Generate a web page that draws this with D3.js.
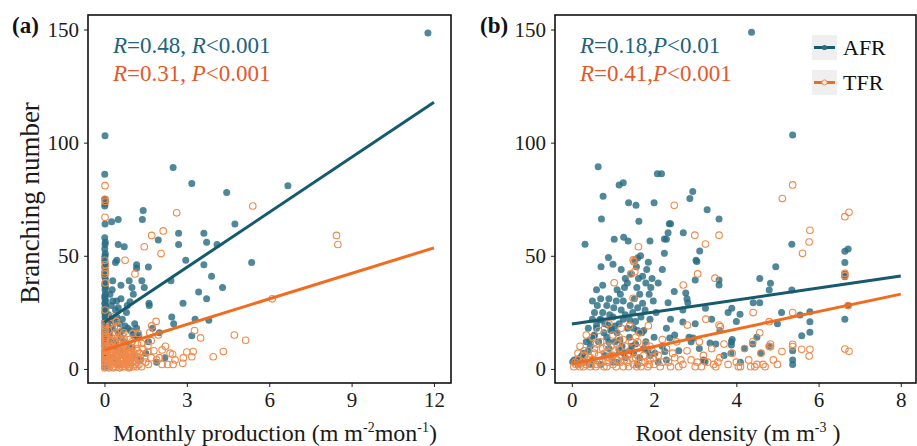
<!DOCTYPE html>
<html>
<head>
<meta charset="utf-8">
<script src="https://cdn.jsdelivr.net/npm/d3@7/dist/d3.min.js"></script>
<style>
  html, body { margin: 0; padding: 0; background: #fff; }
  svg { display: block; }
  text { font-family: "Liberation Serif", "Times New Roman", serif; }
</style>
</head>
<body>
<svg id="chart" width="917" height="446"></svg>
<script>
// ---- Data: branching number vs monthly production (panel a) ----
const prodAFR = [
  [0.02,103],[0.01,86],[0.03,75],[0.02,73],[0.01,72],[0.02,64],[0.01,58],[0.03,56],[0.02,55],[0.01,53],
  [0.03,51],[0.02,50],[0.01,49],[0.02,47],[0.04,46],[0.01,45],[0.03,44],[0.02,42],[0.01,41],[0.03,40],
  [0.02,38],[0.01,37],[0.04,36],[0.02,35],[0.03,33],[0.01,32],[0.02,31],[0.04,30],[0.01,29],[0.03,28],
  [0.02,27],[0.05,26],[0.01,25],[0.03,24],[0.02,23],[0.04,22],[0.01,21],[0.03,20],[0.02,19],[0.05,18],
  [0.01,17],[0.03,16],[0.02,15],[0.04,14],[0.01,13],[0.03,12],[0.02,11],[0.01,10],[0.04,9],[0.02,8],
  [0.03,7],[0.01,6],[0.02,5],[0.04,4],[0.01,3],[0.03,2],[0.02,1],
  [11.78,148.5],[2.5,89],[3.18,82],[4.45,78],[6.68,81],[1.41,70],[1.38,66],[0.5,66],[0.26,65],[4.75,64],
  [2.7,60],[3.62,60],[3.72,56],[2.7,55],[1.96,57],[4.1,55],[0.5,55],[0.72,54],[5.36,47],[2.96,48],
  [3.62,46],[1.6,45],[1.17,46],[1.17,44.5],[0.4,47],[0.45,48],[3.9,41],[4.3,36],[3.43,34],[3.72,31],
  [2.86,29],[2.42,39],[1.36,39],[1.45,36],[0.9,39],[1.0,36],[1.05,33],[0.6,37],[0.3,39],[0.28,35],
  [1.62,29],[0.83,28],[0.44,30],[2.45,23],[2.52,20],[3.3,22],[3.8,21.5],[3.18,14.7],[2.0,16],[1.75,18],
  [0.93,29.7],[1.63,28],[1.17,18],[1.25,15],[0.93,5.4],
  [0.15,24],[0.25,22],[0.35,21],[0.45,23],[0.55,20],[0.65,22],[0.75,19],[0.85,18],[0.95,17],[1.05,15],
  [0.3,18],[0.5,16],[0.6,14],[0.2,15],[0.4,12],[0.7,12],[0.9,10],[1.2,14],[1.1,20],[0.8,25],
  [0.5,27],[0.3,30],[0.2,33],[0.6,31],[1.0,9],[0.45,8],[0.6,6],[0.3,5],[0.8,5],[1.3,4],
  [1.5,7],[1.6,12],[0.15,10],[1.9,3],[2.2,5],[0.12,20],[0.18,17],[0.22,12],[0.1,7],[0.35,3],
  [0.55,2],[0.7,8],[1.1,6],[0.4,26],[0.25,28],[0.65,17]
];
const prodTFR = [
  [0.02,81],[0.01,75],[0.03,74],[0.02,67],[0.01,48],[0.03,46],[0.02,43],[0.01,42],[0.03,38],[0.02,26],
  [0.01,20],[0.03,19],[0.02,18],[0.04,17],[0.01,16],[0.03,15],[0.02,14],[0.04,13],[0.01,12],[0.03,11],
  [0.02,10],[0.05,9],[0.01,8],[0.03,7],[0.02,6],[0.04,5],[0.01,4],[0.03,3],[0.02,2],[0.04,1],[0.01,0.5],
  [0.1,1],[0.15,3],[0.2,5],[0.25,2],[0.3,7],[0.35,4],[0.4,1],[0.45,9],[0.5,3],[0.55,6],
  [0.6,2],[0.65,8],[0.7,4],[0.75,1],[0.8,6],[0.85,3],[0.9,10],[0.95,2],[1.0,5],[1.05,1],
  [1.1,7],[1.15,3],[1.2,11],[0.12,8],[0.18,11],[0.22,13],[0.28,10],[0.32,15],[0.38,12],[0.42,6],
  [0.48,14],[0.52,11],[0.58,4],[0.62,12],[0.68,10],[0.72,13],[0.78,9],[0.82,2],[0.88,7],[0.92,5],
  [0.08,6],[0.06,14],[0.14,17],[0.2,20],[0.36,18],[0.5,19],[0.26,23],[0.44,21],[1.25,2],[1.3,5],
  [1.35,1],[1.4,9],[0.7,16],[0.15,0.5],[0.33,0.5],[0.55,0.5],[0.9,0.5],[0.05,3],[0.09,10],
  [0.1,4],[0.2,7],[0.3,1],[0.4,3],[0.5,6],[0.6,8],[0.7,2],[0.8,4],[0.9,3],[1.0,7],
  [1.1,2],[1.2,5],[0.15,9],[0.25,6],[0.35,9],[0.45,2],[0.55,4],[0.65,1],[0.75,6],[0.85,8],
  [0.95,4],[1.05,6],[1.15,9],[0.12,2],[0.22,4],[0.32,3],[0.42,4],[0.52,1],[0.62,5],[0.72,7],
  [0.82,5],[0.92,1],[1.02,3],[0.18,5],[0.28,8],[0.38,6],[0.48,7],[0.58,9],[0.68,5],[0.78,3],
  [0.88,1],[0.98,8],[1.08,4],[1.18,1],[1.28,7],[1.45,5],[1.6,2],[1.7,5],[1.8,8],[0.24,12],
  [0.4,16],[0.56,13],[0.64,15],[0.8,11],[1.0,12],
  [5.4,72],[2.63,69],[1.72,59],[2.14,61],[1.45,54],[2.06,51],[0.75,48],[1.11,42],[8.45,59],[8.5,55],
  [6.11,31],[4.73,15],[5.14,12.7],[3.28,17],[3.5,13.7],[1.88,21],[1.72,19],[1.96,15],[1.7,12.5],[2.22,10],
  [2.1,8.4],[3.23,7.7],[4.33,7.7],[3.96,5.4],[3.18,5.4],[2.48,6.5],[2.85,2.5],[2.5,2],[2.3,2],[2.1,2],
  [1.9,4],[2.0,5],[1.58,7.7],[1.58,10],[1.3,4],[1.5,3],[1.2,8],[1.03,15.7],[1.23,15.7],[1.35,11.3],
  [2.39,7],[2.57,4],[2.87,4.9],[3.0,7.5],[1.65,16],[0.9,13]
];

// ---- Data: branching number vs root density (panel b) ----
const densAFR = [
  [4.37,148.8],[5.37,103.4],[0.64,89.4],[0.76,76.3],[0.72,66.3],[1.15,81.3],[1.25,82.3],[2.08,86.3],[2.18,86.3],[1.38,73.4],
  [1.56,72.3],[2.0,73.4],[2.87,75.3],[2.94,78.4],[3.29,70.3],[3.58,66.3],[1.63,65.3],[2.37,64.2],[2.4,64.2],[2.34,60.2],
  [2.71,60.2],[0.32,55.1],[1.03,57.3],[1.26,58.2],[1.37,56.5],[1.9,56.5],[2.3,57.3],[3.11,52.1],[0.71,45.2],[0.89,49.2],
  [1.0,46.3],[1.53,48],[1.6,49],[1.67,50],[1.57,45.2],[1.86,47.1],[2.25,51.1],[2.25,57.4],[3.02,48],[3.04,47.5],
  [5.35,55.1],[6.64,52],[6.72,53],[6.64,47],[6.64,42],[6.64,40.8],[6.64,22],[6.72,28],[4.96,45.2],[4.57,40],
  [4.83,37.9],[3.58,39.3],[3.58,37.1],[3.0,39.3],[2.77,33.6],[2.8,31],[2.82,29.3],[2.49,34.2],[2.34,29.3],[3.25,26.8],
  [3.89,26.8],[4.09,24.2],[4.41,29.3],[4.57,29.3],[3.8,24.9],[4.8,34.9],[5.35,34.9],[5.55,23.9],[5.79,25.3],[5.79,20.9],
  [5.79,16.2],[5.59,14.7],[1.72,41],[1.8,38],[1.45,42],[1.2,44],[1.3,40],[1.1,35],[0.75,37],[0.6,35],
  [0.5,30],[0.9,31],[0.85,28],[1.25,30],[1.65,33],[1.95,40],[2.05,25],[0.02,3.2],[0.06,4],[0.28,7],
  [0.44,12.8],[0.54,14.7],[0.6,19.4],[0.68,21.6],[0.88,19.4],[0.97,17.7],[1.17,12.8],[1.22,10],[1.27,7],[1.41,21.6],
  [1.5,18],[1.6,17],[1.7,16],[2.02,7],[2.26,7.7],[2.38,13.7],[2.7,20.7],[2.85,14],[2.95,13.7],[3.36,11.5],
  [3.24,3.2],[3.88,12],[3.88,10.6],[3.87,7],[0.1,4],[0.2,5],[0.3,3],[0.25,6],[0.4,8],[0.5,4],
  [0.45,10],[0.55,15],[0.6,18],[0.65,12],[0.7,22],[0.75,25],[0.8,20],[0.85,14],[0.9,9],[0.95,6],
  [1.0,3],[1.05,12],[1.1,16],[1.15,20],[1.2,26],[1.3,24],[1.35,18],[1.4,14],[1.45,10],[1.5,7],
  [1.55,21],[1.6,27],[1.75,17],[1.8,12],[1.85,8],[1.9,22],[2.0,14],[1.0,23],[0.95,17],[1.15,8],
  [1.3,5],[0.7,2],[1.6,2],[2.1,3],[2.2,10],[2.3,18],[2.4,22],[2.5,15],[2.6,8],[2.7,26],
  [2.9,12],[3.0,20],[3.1,9],[3.2,4],[3.4,22],[3.5,11],[3.6,17],[3.7,6],[3.9,13],[4.0,21],
  [4.2,9],[4.4,11],[4.5,14],[4.6,7],[4.8,10],[5.0,20],[5.37,2],[5.37,4],[5.37,8],[5.1,25],[4.1,3],
  [0.55,25],[0.62,28],[0.7,31],[0.78,16],[0.92,24],[1.02,27],[1.08,30],[1.18,33],[1.28,36],[1.35,38],
  [1.42,28],[1.48,25],[1.52,31],[1.58,36],[1.62,40],[1.68,23],[1.72,29],[1.78,26],[1.82,44],[1.88,33],
  [1.92,36],[1.98,30],[2.1,38],[2.2,44],[0.4,18],[0.5,22],[0.35,12],[0.9,12],[1.05,19],[1.25,22],
  [1.4,8],[1.55,11],[1.65,5],[1.75,9],[0.15,2],[0.45,2],[0.8,6],[1.1,3],[1.9,6],[2.3,4]
];
const densTFR = [
  [5.37,81.3],[5.12,75.3],[6.64,67.3],[6.74,69.2],[5.79,61.3],[5.77,56.1],[5.61,51.1],[6.64,42.3],[6.64,41.2],[2.49,72.3],
  [2.99,59.1],[3.58,59.1],[3.25,55.2],[1.62,54],[1.49,48.2],[1.51,47.4],[1.53,43],[1.43,42],[1.49,31.2],[1.03,38.1],
  [3.06,42],[3.48,40.1],[2.71,37.1],[6.72,28],
  [0.05,1],[0.1,2],[0.15,4],[0.2,1],[0.25,3],[0.3,6],[0.35,2],[0.4,8],[0.45,1],[0.5,4],
  [0.55,9],[0.6,2],[0.65,6],[0.7,12],[0.75,3],[0.8,7],[0.85,1],[0.9,5],[0.95,10],[1.0,2],
  [1.05,8],[1.1,4],[1.15,14],[1.2,6],[1.25,1],[1.3,10],[1.35,3],[1.4,7],[1.45,12],[1.5,2],
  [1.55,5],[1.6,9],[1.65,16],[1.7,3],[1.75,6],[1.8,11],[1.85,1],[1.9,4],[1.95,8],[2.0,2],
  [2.1,6],[2.2,3],[2.3,9],[2.4,1],[2.5,5],[2.55,12],[0.2,10],[0.35,15],[0.5,14],[0.65,17],
  [0.8,18],[1.0,15],[1.2,18],[1.4,19],[0.9,20],[1.1,11],[0.3,8],[0.6,11],[0.75,9],[1.25,13],
  [1.55,14],[1.0,6],[0.45,5],[0.15,7],
  [0.08,3],[0.18,2],[0.28,1],[0.38,4],[0.48,2],[0.58,1],[0.68,3],[0.78,1],[0.88,3],[0.98,4],
  [1.08,1],[1.18,3],[1.28,4],[1.38,1],[1.48,4],[1.58,1],[1.68,1],[1.78,3],[1.88,2],[1.98,5],
  [2.15,1],[2.35,3],[2.45,7],[2.6,1],[2.65,4],[3.05,3],[3.15,1],[3.45,2],[3.55,3],[4.05,1],
  [4.35,1],[4.65,2],[4.45,1],[0.55,7],[0.85,10],[1.15,9],[1.35,6],[1.6,12],[1.9,10],[2.2,13],
  [2.7,2],[2.8,8],[2.9,4],[3.0,1],[3.1,12],[3.2,6],[3.3,3],[3.4,9],[3.5,1],[3.6,5],
  [3.7,11],[3.8,2],[3.9,7],[4.0,3],[4.1,1],[4.2,9],[4.3,4],[4.4,12],[4.5,2],[4.6,7],
  [4.7,1],[4.8,10],[4.9,4],[5.0,2],[3.26,22],[3.58,19.4],[3.61,18.7],[2.81,19.4],[1.86,19.1],[4.41,24.9],
  [4.8,20.9],[4.57,16],[5.37,24.9],[5.37,10.9],[5.37,9.9],[5.11,7.7],[5.59,8.7],[5.79,8.7],[5.77,5.7],[6.64,8.8],
  [6.74,7.8],[4.83,11],[4.83,9.8]
];

// linear fits [intercept, slope] and the x span they cover
const fitProd = { AFR: [20.6, 8.1], TFR: [8.4, 3.76] };
const fitDens = { AFR: [19.9, 2.65], TFR: [2.2, 3.86] };
const fitSpanProd = [0, 12];
const fitSpanDens = [0, 8];

const yTicks = [0, 50, 100, 150];
const xTicksProd = [0, 3, 6, 9, 12];
const xTicksDens = [0, 2, 4, 6, 8];

const statsProd = [
  { series: "AFR", r: "0.48", p: "R", rel: "<0.001" },
  { series: "TFR", r: "0.31", p: "P", rel: "<0.001" }
];
const statsDens = [
  { series: "AFR", r: "0.18", p: "P", rel: "<0.01" },
  { series: "TFR", r: "0.41", p: "P", rel: "<0.001" }
];
const groups = ["AFR", "TFR"];

// ---- Styling ----
const pointFill = "#2a6d82";
const ringStroke = "#f08a4b";
const lineColor = { AFR: "#165a6e", TFR: "#f26b1f" };
const textColor = { AFR: "#22627a", TFR: "#e5582a" };

const svg = d3.select("#chart");
const yDomain = [-6.2, 156.4];

function panel(opts) {
  const { left, right, top, bottom, xDomain, xTicks, afr, tfr, fit, span, stats, tag, sep, xTitle, titleX, showYTitle, legend, tagX } = opts;
  const x = d3.scaleLinear().domain(xDomain).range([left, right]);
  const y = d3.scaleLinear().domain(yDomain).range([bottom, top]);
  const g = svg.append("g");

  // axes
  const ya = g.append("g").attr("transform", `translate(${left},0)`)
    .call(d3.axisLeft(y).tickValues(yTicks).tickSize(4).tickPadding(5));
  const xa = g.append("g").attr("transform", `translate(0,${bottom})`)
    .call(d3.axisBottom(x).tickValues(xTicks).tickSize(4).tickPadding(5));
  [ya, xa].forEach(a => {
    a.select(".domain").remove();
    a.selectAll("line").attr("stroke", "#333").attr("stroke-width", 1.1);
    a.selectAll("text").attr("font-size", 21).attr("fill", "#1a1a1a")
      .attr("font-family", "Liberation Serif, serif");
  });

  // points
  const clipId = "clip" + tag;
  svg.append("clipPath").attr("id", clipId).append("rect")
    .attr("x", left).attr("y", top).attr("width", right - left).attr("height", bottom - top);
  const pg = g.append("g").attr("clip-path", `url(#${clipId})`);
  pg.selectAll("circle.afr").data(afr).join("circle").attr("class", "afr")
    .attr("cx", d => x(d[0])).attr("cy", d => y(d[1])).attr("r", 3.5)
    .attr("fill", pointFill).attr("fill-opacity", 0.82);
  pg.selectAll("circle.tfr").data(tfr).join("circle").attr("class", "tfr")
    .attr("cx", d => x(d[0])).attr("cy", d => y(d[1])).attr("r", 3.3)
    .attr("fill", "none").attr("stroke", ringStroke).attr("stroke-width", 1.1);

  // fitted lines
  groups.forEach(k => {
    const [a, b] = fit[k];
    pg.append("line")
      .attr("x1", x(span[0])).attr("y1", y(a + b * span[0]))
      .attr("x2", x(span[1])).attr("y2", y(a + b * span[1]))
      .attr("stroke", lineColor[k]).attr("stroke-width", 3);
  });

  // frame
  g.append("rect").attr("x", left).attr("y", top).attr("width", right - left).attr("height", bottom - top)
    .attr("fill", "none").attr("stroke", "#111").attr("stroke-width", 1.6);

  // panel tag
  g.append("text").attr("x", tagX).attr("y", 33).attr("font-size", 23).attr("font-weight", "bold")
    .attr("fill", "#111").text(`(${tag})`);

  // statistics
  stats.forEach((s, i) => {
    const t = g.append("text").attr("x", left + 25).attr("y", 53 + i * 28)
      .attr("font-size", 23).attr("fill", textColor[s.series]);
    t.append("tspan").attr("font-style", "italic").text("R");
    t.append("tspan").text(`=${s.r},${sep}`);
    t.append("tspan").attr("font-style", "italic").text(s.p);
    t.append("tspan").text(s.rel);
  });

  // x title
  const xt = g.append("text").attr("x", titleX).attr("y", 441)
    .attr("text-anchor", "middle").attr("font-size", 24).attr("fill", "#1a1a1a");
  xTitle.forEach(part => {
    const ts = xt.append("tspan").text(part.t);
    if (part.sup) ts.attr("font-size", 14).attr("dy", -9);
    if (part.down) ts.attr("dy", 9);
  });

  if (showYTitle) {
    g.append("text").attr("transform", `translate(39,${(top + bottom) / 2 + 4}) rotate(-90)`)
      .attr("text-anchor", "middle").attr("font-size", 27).attr("fill", "#1a1a1a")
      .text("Branching number");
  }

  if (legend) {
    groups.forEach((k, i) => {
      const ky = 35 + i * 35;
      g.append("rect").attr("x", 812).attr("y", ky).attr("width", 25).attr("height", 25).attr("fill", "#efefef");
      g.append("line").attr("x1", 814).attr("x2", 835).attr("y1", ky + 12.5).attr("y2", ky + 12.5)
        .attr("stroke", lineColor[k]).attr("stroke-width", 3);
      if (k === "AFR") {
        g.append("circle").attr("cx", 824.5).attr("cy", ky + 12.5).attr("r", 2.6).attr("fill", pointFill);
      } else {
        g.append("circle").attr("cx", 824.5).attr("cy", ky + 12.5).attr("r", 2.6)
          .attr("fill", "#efefef").attr("stroke", ringStroke).attr("stroke-width", 1);
      }
      g.append("text").attr("x", 843).attr("y", ky + 20).attr("font-size", 22).attr("fill", "#111").text(k);
    });
  }
}

panel({
  left: 88, right: 451, top: 15, bottom: 383, xDomain: [-0.6, 12.62], xTicks: xTicksProd,
  afr: prodAFR, tfr: prodTFR, fit: fitProd, span: fitSpanProd, stats: statsProd, tag: "a", sep: " ", tagX: 12,
  xTitle: [{ t: "Monthly production (m m" }, { t: "-2", sup: true }, { t: "mon", down: true }, { t: "-1", sup: true }, { t: ")", down: true }],
  titleX: 275, showYTitle: true, legend: false
});
panel({
  left: 555, right: 916, top: 15, bottom: 383, xDomain: [-0.41, 8.37], xTicks: xTicksDens,
  afr: densAFR, tfr: densTFR, fit: fitDens, span: fitSpanDens, stats: statsDens, tag: "b", sep: "", tagX: 480,
  xTitle: [{ t: "Root density (m m" }, { t: "-3", sup: true }, { t: " )", down: true }],
  titleX: 738, showYTitle: false, legend: true
});
</script>
</body>
</html>
